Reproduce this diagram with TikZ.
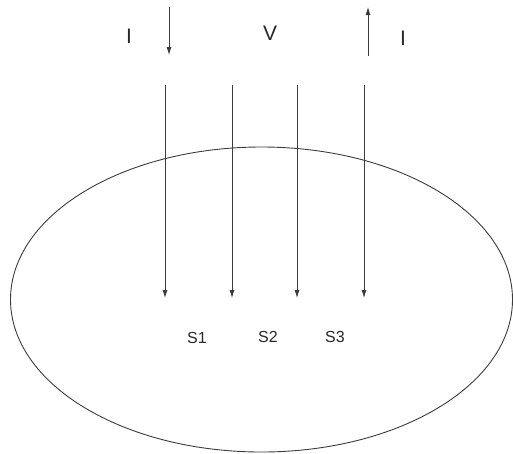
\documentclass[tikz,border=0pt]{standalone}
\usepackage{fontspec}
\setmainfont{Liberation Sans}
\usepackage{xcolor}
\definecolor{lngray}{RGB}{60,60,60}
\definecolor{txgray}{RGB}{40,40,40}
\usetikzlibrary{arrows.meta,positioning}

\begin{document}
\begin{tikzpicture}[x=1pt, y=-1pt,
  probe/.style={-{Latex[length=8pt,width=5pt]}, line width=0.8pt, draw=lngray},
  lbl/.style={font=\fontsize{16}{18}\selectfont, text=txgray, inner sep=0pt},
  biglbl/.style={font=\fontsize{21}{24}\selectfont, text=txgray, inner sep=0pt}
]
\useasboundingbox (0,0) rectangle (513,453);

% body
\draw[line width=0.9pt, draw=lngray] (261.5,299.5) ellipse [x radius=251, y radius=152.5];

% current in / out
\coordinate (iin1) at (169,7);
\coordinate (iin2) at (169,55);
\coordinate (iout1) at (368,56);
\coordinate (iout2) at (368,7);
\draw[probe] (iin1) -- (iin2);
\draw[probe] (iout1) -- (iout2);

\node[biglbl] (ileft)  at (129,36) {I};
\node[biglbl] (volt)   at (270,33) {V};
\node[biglbl] (iright) at (403,38) {I};

% probes
\coordinate (p1a) at (165,85);
\coordinate (p1b) at (165,298);
\coordinate (p2a) at (232,85);
\coordinate (p2b) at (232,298);
\coordinate (p3a) at (297,85);
\coordinate (p3b) at (297,298);
\coordinate (p4a) at (364,85);
\coordinate (p4b) at (364,298);
\draw[probe] (p1a) -- (p1b);
\draw[probe] (p2a) -- (p2b);
\draw[probe] (p3a) -- (p3b);
\draw[probe] (p4a) -- (p4b);

\node[lbl] (s1) at (197,338) {S1};
\node[lbl] (s2) at (268,337) {S2};
\node[lbl] (s3) at (335,337) {S3};
\end{tikzpicture}
\end{document}
